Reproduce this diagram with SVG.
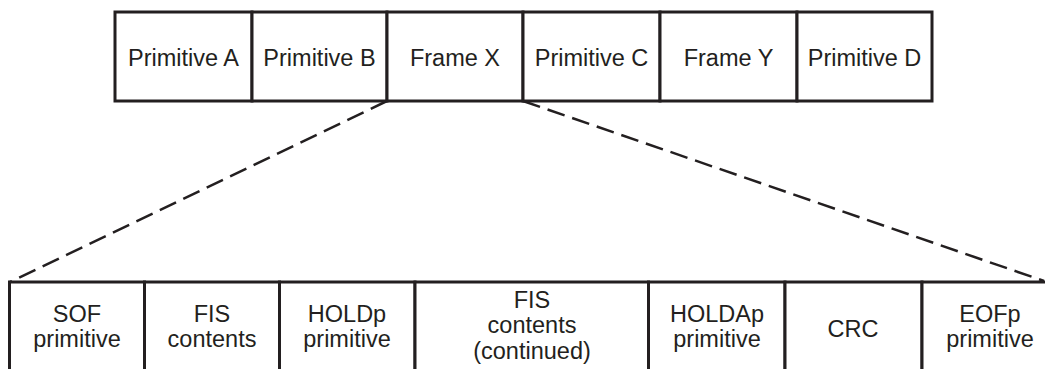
<svg xmlns="http://www.w3.org/2000/svg" width="1045" height="369" viewBox="0 0 1045 369">
<style>
.box{fill:#fff;stroke:#231f20;stroke-width:3}
.t{font-family:"Liberation Sans",Arial,sans-serif;font-size:23.5px;fill:#231f20;text-anchor:middle}
.dash{fill:none;stroke:#231f20;stroke-width:2.5;stroke-dasharray:18 8}
</style>
<rect width="1045" height="369" fill="#fff"/>
<g id="connectors">
<line class="dash" x1="387" y1="101" x2="10" y2="282"/>
<line class="dash" x1="523" y1="101" x2="1044" y2="281"/>
</g>
<g id="primA"><rect class="box" x="115" y="12" width="137" height="89"/><text class="t" x="183.5" y="65.5">Primitive A</text></g>
<g id="primB"><rect class="box" x="252" y="12" width="135" height="89"/><text class="t" x="319.5" y="65.5">Primitive B</text></g>
<g id="frameX"><rect class="box" x="387" y="12" width="136" height="89"/><text class="t" x="455" y="65.5">Frame X</text></g>
<g id="primC"><rect class="box" x="523" y="12" width="137" height="89"/><text class="t" x="591.5" y="65.5">Primitive C</text></g>
<g id="frameY"><rect class="box" x="660" y="12" width="137" height="89"/><text class="t" x="728.5" y="65.5">Frame Y</text></g>
<g id="primD"><rect class="box" x="797" y="12" width="135" height="89"/><text class="t" x="864.5" y="65.5">Primitive D</text></g>

<g id="sof"><rect class="box" x="9.5" y="282" width="135" height="100"/><text class="t" x="77" y="321.5">SOF</text><text class="t" x="77" y="347">primitive</text></g>
<g id="fis"><rect class="box" x="144.5" y="282" width="135" height="100"/><text class="t" x="212" y="321.5">FIS</text><text class="t" x="212" y="347">contents</text></g>
<g id="holdp"><rect class="box" x="279.5" y="282" width="135.5" height="100"/><text class="t" x="347" y="321.5">HOLDp</text><text class="t" x="347" y="347">primitive</text></g>
<g id="fiscont"><rect class="box" x="415" y="282" width="233.5" height="100"/><text class="t" x="532" y="307.5">FIS</text><text class="t" x="532" y="333">contents</text><text class="t" x="532" y="358.5">(continued)</text></g>
<g id="holdap"><rect class="box" x="648.5" y="282" width="136.5" height="100"/><text class="t" x="717" y="321.5">HOLDAp</text><text class="t" x="717" y="347">primitive</text></g>
<g id="crc"><rect class="box" x="785" y="282" width="137" height="100"/><text class="t" x="853" y="337">CRC</text></g>
<g id="eofp"><rect class="box" x="922" y="282" width="136" height="100"/><text class="t" x="990" y="321.5">EOFp</text><text class="t" x="990" y="347">primitive</text></g>
</svg>
